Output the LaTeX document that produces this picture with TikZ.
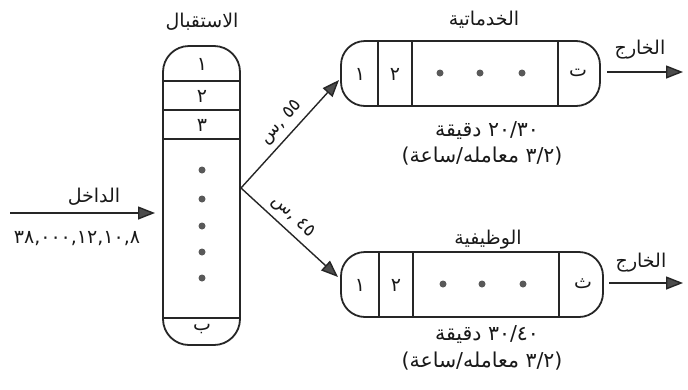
\documentclass[tikz,border=0pt]{standalone}
\usepackage{fontspec}
\setmainfont{DejaVu Sans}
\newfontfamily\ar[Script=Arabic]{DejaVu Sans}
\TeXXeTstate=1
\usetikzlibrary{arrows.meta}
\newcommand{\AW}[1]{\mbox{\ar\beginR #1\endR}}
\newcommand{\AN}[1]{\mbox{\ar #1}}
\begin{document}
\begin{tikzpicture}[x=1pt,y=-1pt,
  boxshape/.style={draw=black!85, line width=1.8pt, inner sep=0pt},
  divline/.style={draw=black!85, line width=1.3pt},
  bigdot/.style={circle, fill=black!65, inner sep=0pt, minimum size=7pt},
  lbl/.style={font=\ar\fontsize{19}{21}\selectfont, inner sep=0pt, text=black!90},
  sublbl/.style={font=\ar\fontsize{20.5}{22}\selectfont, inner sep=0pt, text=black!90},
  slbl/.style={font=\ar\fontsize{18}{20}\selectfont, inner sep=0pt, text=black!90},
  arr/.style={draw=black!85, line width=1.4pt, -{Triangle[length=17pt,width=13pt,fill=black!70]}}]
\useasboundingbox (0,0) rectangle (688,389);
\fill[white] (0,0) rectangle (688,389);

% reception
\node[boxshape, rounded corners=26pt, minimum width=77pt, minimum height=299pt] (rec) at (201.5,195.5) {};
\draw[divline] (163,81) -- (240,81);
\draw[divline] (163,110) -- (240,110);
\draw[divline] (163,139) -- (240,139);
\draw[divline] (163,318) -- (240,318);
\node[lbl] (rectitle) at (202,22) {\AW{الاستقبال}};
\node[lbl] (r1) at (202,64) {\AN{١}};
\node[lbl] (r2) at (202,96) {\AN{٢}};
\node[lbl] (r3) at (202,125) {\AN{٣}};
\node[bigdot] (rd1) at (202,170) {};
\node[bigdot] (rd2) at (202,199) {};
\node[bigdot] (rd3) at (202,226) {};
\node[bigdot] (rd4) at (202,252) {};
\node[bigdot] (rd5) at (202,278) {};
\node[lbl] (rb) at (202,329) {\AW{ب}};

% input
\coordinate (inL) at (10,213);
\coordinate (inR) at (155,213);
\draw[arr] (inL) -- (inR);
\node[lbl] (intitle) at (94,197) {\AW{الداخل}};
\node[lbl] (innums) at (77,239) {\AN{٣٨,٠٠٠,١٢,١٠,٨}};

% upper service box
\node[boxshape, rounded corners=24pt, minimum width=259pt, minimum height=65pt] (srv) at (470.5,73.5) {};
\draw[divline] (378,41) -- (378,106);
\draw[divline] (412,41) -- (412,106);
\draw[divline] (558,41) -- (558,106);
\node[lbl] (s1) at (360,74) {\AN{١}};
\node[lbl] (s2) at (395,74) {\AN{٢}};
\node[bigdot] (sd1) at (440,73) {};
\node[bigdot] (sd2) at (480,73) {};
\node[bigdot] (sd3) at (522,73) {};
\node[lbl] (st) at (578,73) {\AW{ت}};
\node[lbl] (srvtitle) at (484,20) {\AW{الخدماتية}};
\node[sublbl] (srvt1) at (487,131) {\AW{دقيقة}\ \AN{٢٠/٣٠}};
\node[sublbl] (srvt2) at (482,156) {\AN{)}\AW{ساعة}\AN{/}\AW{معامله}\ \AN{٣/٢}\AN{(}};
\coordinate (so1) at (607,72);
\coordinate (so2) at (683,72);
\draw[arr] (so1) -- (so2);
\node[lbl] (soutl) at (640,50) {\AW{الخارج}};

% lower service box
\node[boxshape, rounded corners=24pt, minimum width=262pt, minimum height=65pt] (fun) at (472,284.5) {};
\draw[divline] (379,252) -- (379,317);
\draw[divline] (413,252) -- (413,317);
\draw[divline] (559,252) -- (559,317);
\node[lbl] (f1) at (360,285) {\AN{١}};
\node[lbl] (f2) at (396,285) {\AN{٢}};
\node[bigdot] (fd1) at (443,284) {};
\node[bigdot] (fd2) at (482,284) {};
\node[bigdot] (fd3) at (523,284) {};
\node[lbl] (fth) at (583,284) {\AW{ث}};
\node[lbl] (funtitle) at (488,240) {\AW{الوظيفية}};
\node[sublbl] (funt1) at (487,335) {\AW{دقيقة}\ \AN{٣٠/٤٠}};
\node[sublbl] (funt2) at (482,361) {\AN{)}\AW{ساعة}\AN{/}\AW{معامله}\ \AN{٣/٢}\AN{(}};
\coordinate (fo1) at (609,283);
\coordinate (fo2) at (683,283);
\draw[arr] (fo1) -- (fo2);
\node[lbl] (foutl) at (641,263) {\AW{الخارج}};

% split arrows
\coordinate (split) at (241,188);
\coordinate (tipU) at (339,80);
\coordinate (tipD) at (338,277);
\draw[arr] (split) -- node[slbl, sloped, above=5pt, pos=0.52] (pU) {\AW{س},\ \AN{٥٥}} (tipU);
\draw[arr] (split) -- node[slbl, sloped, above=5pt, pos=0.44] (pD) {\AW{س},\ \AN{٤٥}} (tipD);
\end{tikzpicture}
\end{document}
